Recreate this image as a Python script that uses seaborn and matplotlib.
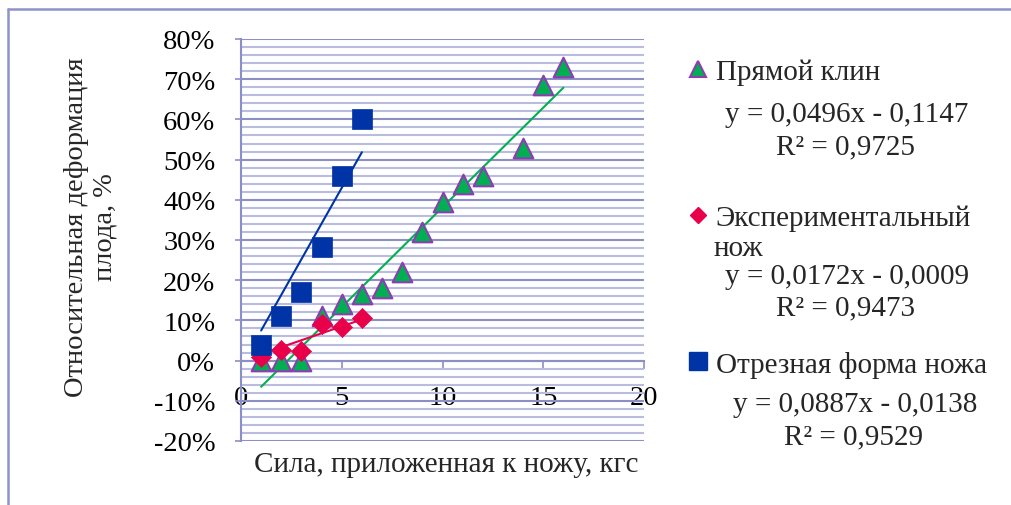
import numpy as np
import pandas as pd
import matplotlib
matplotlib.use("Agg")
import matplotlib.pyplot as plt
import seaborn as sns
from matplotlib.lines import Line2D
from matplotlib.ticker import MultipleLocator, FuncFormatter

# ---------------- data ----------------
wedge_x = [1, 2, 3, 4, 5, 6, 7, 8, 9, 10, 11, 12, 14, 15, 16]
wedge_y = [0.0, 0.0, 0.0, 0.11, 0.14, 0.165, 0.18, 0.22, 0.32, 0.395, 0.44, 0.46, 0.53, 0.685, 0.73]

exp_x = [1, 2, 3, 4, 5, 6]
exp_y = [0.01, 0.026, 0.025, 0.091, 0.084, 0.105]

cut_x = [1, 2, 3, 4, 5, 6]
cut_y = [0.039, 0.111, 0.171, 0.282, 0.46, 0.60]

series_names = ["Прямой клин", "Экспериментальный\nнож", "Отрезная форма ножа"]
trend_slope = [0.0496, 0.0172, 0.0887]
trend_intercept = [-0.1147, -0.0009, -0.0138]
trend_r2 = [0.9725, 0.9473, 0.9529]

x_ticks = [0, 5, 10, 15, 20]
x_label = "Сила, приложенная к ножу, кгс"
y_label = "Относительная деформация\nплода, %"

# ---------------- style ----------------
W, H = 1011, 506
sns.set_theme(style="white")
plt.rcParams["font.family"] = ["Liberation Serif", "DejaVu Serif"]
plt.rcParams["axes.unicode_minus"] = False
FS = 21
FS_TICK = 20.5

GREEN = "#00B050"
PURPLE = "#8E3CB4"
RED = "#E8004A"
BLUE = "#0033A6"
GRID_MAJ = "#8A8FC8"
GRID_MIN = "#B9BCDE"

fig = plt.figure(figsize=(W / 100, H / 100), dpi=100)
ax = fig.add_axes([241 / W, 1 - 442 / H, 403 / W, 402 / H])

# trendlines (from the stated equations, over each series' x range)
for xs, k, b, col in [(wedge_x, trend_slope[0], trend_intercept[0], GREEN),
                      (exp_x, trend_slope[1], trend_intercept[1], RED),
                      (cut_x, trend_slope[2], trend_intercept[2], BLUE)]:
    tx = np.array([min(xs), max(xs)], dtype=float)
    sns.lineplot(x=tx, y=k * tx + b, ax=ax, color=col, linewidth=1.5, zorder=3)

sns.scatterplot(x=wedge_x, y=wedge_y, ax=ax, marker="^", s=200, color=GREEN,
                edgecolor=PURPLE, linewidth=1.5, zorder=4)
sns.scatterplot(x=exp_x, y=exp_y, ax=ax, marker="D", s=105, color=RED,
                edgecolor=RED, linewidth=0.5, zorder=5)
sns.scatterplot(x=cut_x, y=cut_y, ax=ax, marker="s", s=200, color=BLUE,
                edgecolor=BLUE, linewidth=0.5, zorder=6)

ax.set_xlim(0, 20)
ax.set_ylim(-0.2, 0.8)
ax.yaxis.set_major_locator(MultipleLocator(0.1))
ax.yaxis.set_minor_locator(MultipleLocator(0.02))
ax.yaxis.set_major_formatter(FuncFormatter(lambda v, p: f"{v * 100:.0f}%"))
ax.set_xticks(x_ticks)
ax.set_xticklabels([str(t) for t in x_ticks])

ax.grid(False)
ax.set_axisbelow(True)
ax.yaxis.grid(True, which="major", color=GRID_MAJ, linewidth=1.5)
ax.yaxis.grid(True, which="minor", color=GRID_MIN, linewidth=1.5)

for s in ["top", "right"]:
    ax.spines[s].set_visible(False)
ax.spines["left"].set_color(GRID_MAJ)
ax.spines["left"].set_linewidth(1.5)
ax.spines["bottom"].set_position(("data", 0))
ax.spines["bottom"].set_color(GRID_MAJ)
ax.spines["bottom"].set_linewidth(1.5)

ax.tick_params(axis="y", which="major", direction="out", length=4.5, width=1.2,
               color=GRID_MAJ, pad=14, labelsize=FS_TICK, left=True)
ax.tick_params(axis="y", which="minor", length=0)
ax.tick_params(axis="x", direction="out", length=5.5, width=1.2, color=GRID_MAJ,
               pad=12, labelsize=FS_TICK, bottom=True)
for lab in ax.get_yticklabels() + ax.get_xticklabels():
    lab.set_color("black")

# axis titles
fig.text(446 / W, 1 - 465 / H, x_label, ha="center", va="center", fontsize=FS)
fig.text(91 / W, 1 - 227 / H, y_label, ha="center", va="center", rotation=90,
         fontsize=20.5, multialignment="center", linespacing=1.17)

# legend
handles = [
    Line2D([], [], linestyle="none", marker="^", markersize=12, markerfacecolor=GREEN,
           markeredgecolor=PURPLE, markeredgewidth=1.5),
    Line2D([], [], linestyle="none", marker="D", markersize=8.5, markerfacecolor=RED,
           markeredgecolor=RED),
    Line2D([], [], linestyle="none", marker="s", markersize=12.5, markerfacecolor=BLUE,
           markeredgecolor=BLUE),
]
labels = [series_names[0], series_names[1].split("\n")[0], series_names[2]]
fig.legend(handles, labels, loc="upper left", bbox_to_anchor=(687 / W, 1 - 60 / H),
           bbox_transform=fig.transFigure, frameon=False, fontsize=FS,
           handlelength=0.78, handletextpad=0.2, borderpad=0, borderaxespad=0,
           labelspacing=4.09)
fig.text(714 / W, 1 - 249 / H, series_names[1].split("\n")[1], ha="left", va="center",
         fontsize=FS)

eq_pos = [((847, 115), (846, 147)), ((847, 277), (846, 308)), ((855, 405), (854, 437))]
for i, ((ex, ey), (rx, ry)) in enumerate(eq_pos):
    sign = "-" if trend_intercept[i] < 0 else "+"
    eq = f"y = {trend_slope[i]:.4f}x {sign} {abs(trend_intercept[i]):.4f}".replace(".", ",")
    r2 = f"R² = {trend_r2[i]:.4f}".replace(".", ",")
    fig.text(ex / W, 1 - ey / H, eq, ha="center", va="center", fontsize=FS)
    fig.text(rx / W, 1 - ry / H, r2, ha="center", va="center", fontsize=FS)

# outer chart frame
FRAME = "#8E93CC"
fig.add_artist(Line2D([8 / W, 8 / W], [-0.01, 1 - 10 / H], transform=fig.transFigure,
                      color=FRAME, linewidth=1.8))
fig.add_artist(Line2D([8 / W, 1.01], [1 - 10 / H, 1 - 10 / H], transform=fig.transFigure,
                      color=FRAME, linewidth=1.8))

fig.savefig("out.png", dpi=100)
